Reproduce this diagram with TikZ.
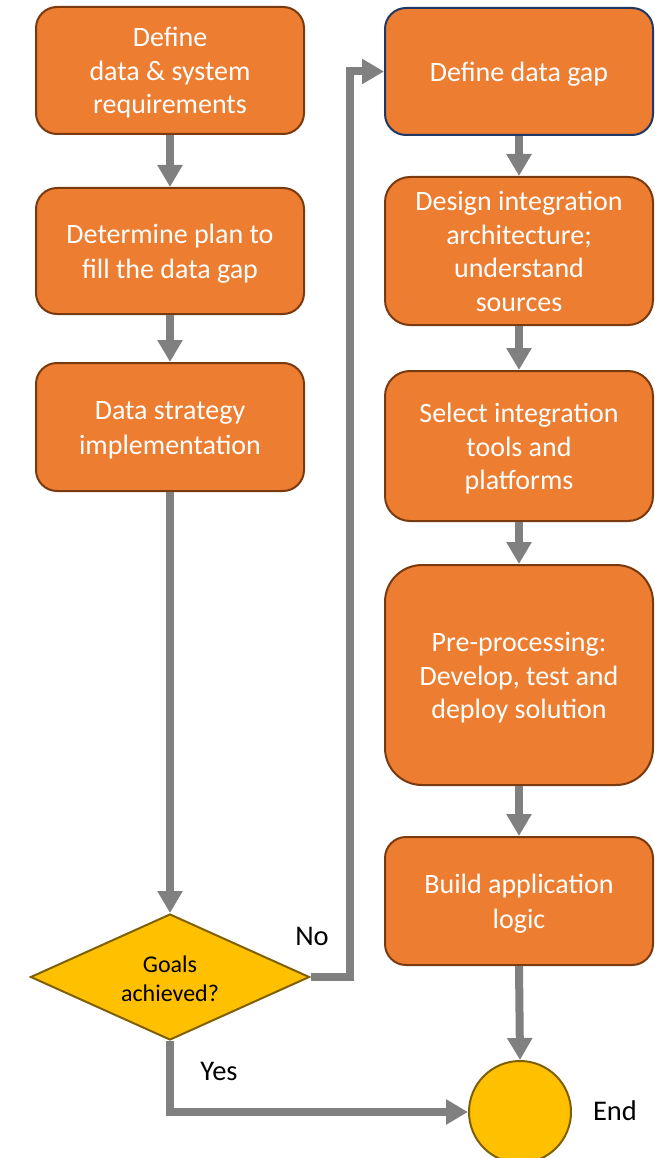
\documentclass[tikz,border=0pt]{standalone}
\usepackage{fontspec}
\setmainfont{Carlito}
\usetikzlibrary{arrows.meta,shapes.geometric}
\definecolor{boxorange}{HTML}{ED7D31}
\definecolor{boxborder}{HTML}{7A3A10}
\definecolor{navyborder}{HTML}{1F3864}
\definecolor{gold}{HTML}{FFC000}
\definecolor{goldborder}{HTML}{7F6000}
\definecolor{arrowgray}{HTML}{808080}
% invisible struts: height minus depth = 20pt, so text sits as in the reference
\newcommand{\bxs}{\rule[-7pt]{0pt}{34pt}}
\newcommand{\dms}{\rule[-4pt]{0pt}{28pt}}
\tikzset{
  stepbox/.style={draw=boxborder, fill=boxorange, line width=2pt, rounded corners=21pt,
    minimum width=268pt, text=white, align=center, inner sep=0pt,
    font=\fontsize{28}{33.5}\selectfont},
  decision/.style={shape=diamond, aspect=2.2, draw=goldborder, fill=gold, line width=2pt,
    minimum width=279pt, minimum height=126pt, inner sep=0pt, align=center,
    font=\fontsize{24}{29}\selectfont},
  terminal/.style={shape=circle, draw=goldborder, fill=gold, line width=2pt,
    minimum size=102pt, inner sep=0pt},
  lbl/.style={font=\fontsize{28.5}{32}\selectfont, inner sep=0pt},
  arr/.style={draw=arrowgray, line width=8pt, -{Triangle[width=24pt,length=22pt]}}
}
\begin{document}
\begin{tikzpicture}[x=1pt,y=-1pt]
\useasboundingbox (0,0) rectangle (654,1158);
% left column
\node[stepbox, minimum height=127pt] (l1) at (170,70.5) {\bxs Define\\data \& system\\requirements\bxs};
\node[stepbox, minimum height=126pt] (l2) at (170,251) {\bxs Determine plan to\\fill the data gap\bxs};
\node[stepbox, minimum height=128pt] (l3) at (170,427) {\bxs Data strategy\\implementation\bxs};
\node[decision] (d) at (170,977) {\dms Goals\\achieved?\dms};
% right column
\node[stepbox, draw=navyborder, minimum height=127pt] (r1) at (519,71.5) {\bxs Define data gap\bxs};
\node[stepbox, minimum height=148pt, rounded corners=25pt] (r2) at (519,251) {\bxs Design integration\\architecture;\\understand\\sources\bxs};
\node[stepbox, minimum height=150pt, rounded corners=25pt] (r3) at (519,446) {\bxs Select integration\\tools and\\platforms\bxs};
\node[stepbox, minimum height=220pt, rounded corners=37pt] (r4) at (519,675) {\bxs Pre-processing:\\Develop, test and\\deploy solution\bxs};
\node[stepbox, minimum height=128pt] (r5) at (519,901) {\bxs Build application\\logic\bxs};
\node[terminal] (e) at (520,1112) {};
% labels
\node[lbl] (no) at (312,936) {No};
\node[lbl] (yes) at (219,1071) {Yes};
\node[lbl] (endlbl) at (615,1111) {End};
% connectors
\draw[arr] (l1.south) -- (l2.north);
\draw[arr] (l2.south) -- (l3.north);
\draw[arr] (l3.south) -- (d.north);
\draw[arr] (d.east) -- ++(39,0) |- (r1.west);
\draw[arr] (d.south) |- (e.west);
\draw[arr] (r1.south) -- (r2.north);
\draw[arr] (r2.south) -- (r3.north);
\draw[arr] (r3.south) -- (r4.north);
\draw[arr] (r4.south) -- (r5.north);
\draw[arr] (r5.south) -- (e.north);
\end{tikzpicture}
\end{document}
